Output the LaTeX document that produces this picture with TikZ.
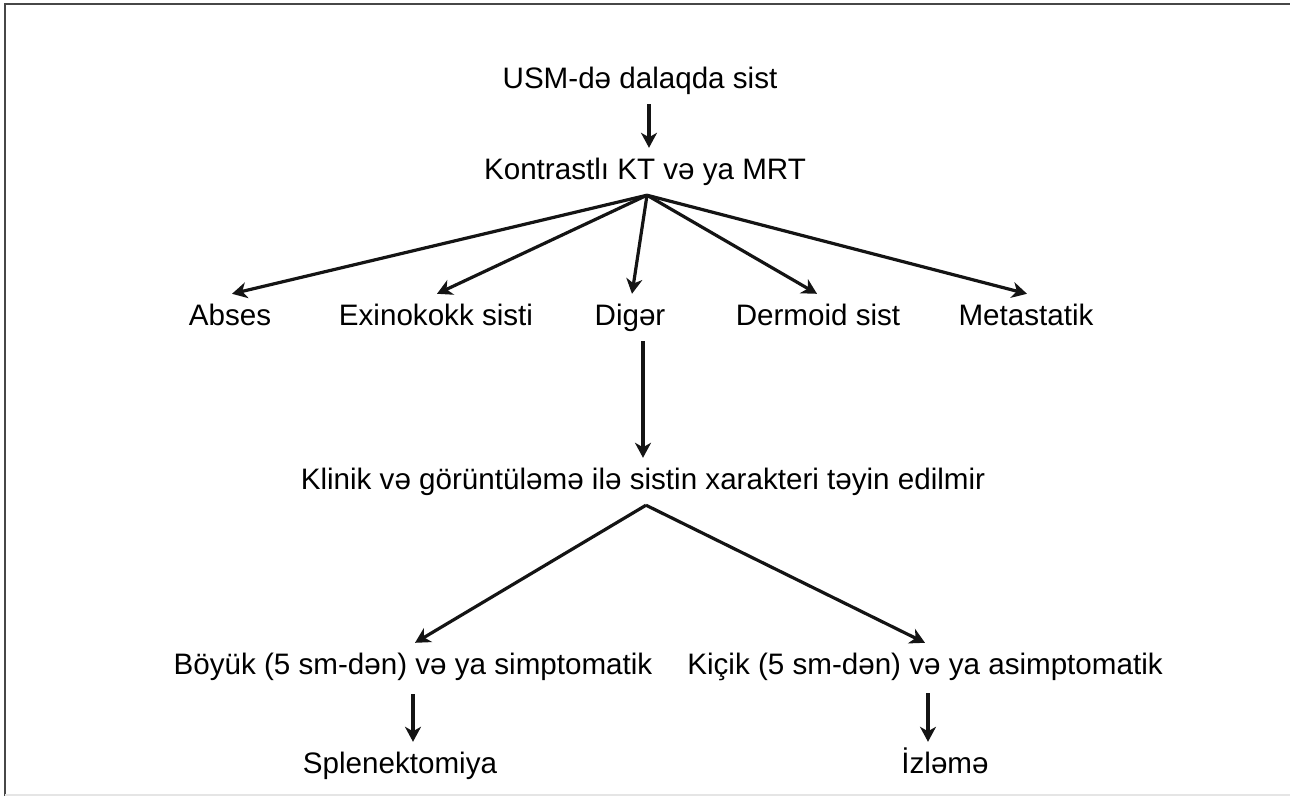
\documentclass[tikz,border=0pt]{standalone}
\usepackage{fontspec}
\setmainfont{Liberation Sans}
\usetikzlibrary{arrows.meta}
\begin{document}
\begin{tikzpicture}[x=1pt,y=-1pt,
  lbl/.style={font=\fontsize{29.6}{34}\selectfont, text height=21pt, text depth=6pt, inner xsep=2pt, inner ysep=10pt, anchor=base},
  arr/.style={-{Stealth[length=15pt,width=16pt,inset=4.5pt]}, line width=3.2pt, draw=black!92},
  frameline/.style={line width=2.6pt, draw=black!72}]
\useasboundingbox (0,0) rectangle (1290,796);
% frame
\draw[frameline] (5,796) -- (5,4) -- (1290,4);
\draw[line width=1.5pt, draw=black!10] (5,795) -- (1290,795);
% nodes
\node[lbl] (usm)   at (640,88)  {USM-də dalaqda sist};
\node[lbl] (kont)  at (645,179) {Kontrastlı KT və ya MRT};
\node[lbl] (abses) at (230,325) {Abses};
\node[lbl] (exi)   at (436,325) {Exinokokk sisti};
\node[lbl] (diger) at (630,325) {Digər};
\node[lbl] (derm)  at (818,325) {Dermoid sist};
\node[lbl] (meta)  at (1026,325) {Metastatik};
\node[lbl] (klin)  at (643,489) {Klinik və görüntüləmə ilə sistin xarakteri təyin edilmir};
\node[lbl] (boyuk) at (413,674) {Böyük (5 sm-dən) və ya simptomatik};
\node[lbl] (kicik) at (925,674) {Kiçik (5 sm-dən) və ya asimptomatik};
\node[lbl] (splen) at (400,773) {Splenektomiya};
\node[lbl] (izl)   at (945,773) {İzləmə};
% connectors
\draw[arr] ([xshift=4pt]kont.north |- usm.south) -- ([xshift=4pt]kont.north);
\draw[arr] ([xshift=2pt]kont.south) -- ([xshift=2pt]abses.north);
\draw[arr] ([xshift=2pt]kont.south) -- ([xshift=1pt]exi.north);
\draw[arr] ([xshift=2pt]kont.south) -- ([xshift=2pt]diger.north);
\draw[arr] ([xshift=2pt]kont.south) -- ([xshift=-1pt]derm.north);
\draw[arr] ([xshift=2pt]kont.south) -- ([xshift=1pt]meta.north);
\draw[arr] (klin.north |- diger.south) -- (klin.north);
\draw[arr] ([xshift=3pt]klin.south) -- ([xshift=2pt]boyuk.north);
\draw[arr] ([xshift=3pt]klin.south) -- (kicik.north);
\draw[arr, shorten <=4pt] (boyuk.south) -- (boyuk.south |- splen.north);
\draw[arr, shorten <=3pt] ([xshift=3pt]kicik.south) -- ([xshift=3pt]kicik.south |- izl.north);
\end{tikzpicture}
\end{document}
